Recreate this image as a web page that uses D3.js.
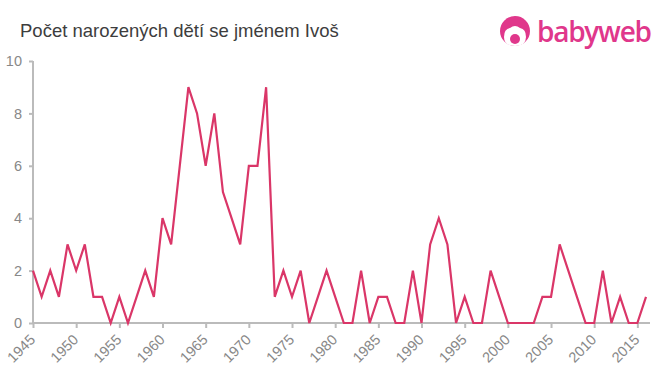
<!DOCTYPE html>
<html>
<head>
<meta charset="utf-8">
<script src="https://cdn.jsdelivr.net/npm/d3@7"></script>
<style>
  body { margin: 0; background: #fff; }
  svg { font-family: "Liberation Sans", Arial, sans-serif; }
</style>
</head>
<body>
<div id="chart"></div>
<script>
const years = d3.range(1945, 2017)
const counts = [
  2, 1, 2, 1, 3, 2, 3, 1, 1, 0,   // 1945-1954
  1, 0, 1, 2, 1, 4, 3, 6, 9, 8,   // 1955-1964
  6, 8, 5, 4, 3, 6, 6, 9, 1, 2,   // 1965-1974
  1, 2, 0, 1, 2, 1, 0, 0, 2, 0,   // 1975-1984
  1, 1, 0, 0, 2, 0, 3, 4, 3, 0,   // 1985-1994
  1, 0, 0, 2, 1, 0, 0, 0, 0, 1,   // 1995-2004
  1, 3, 2, 1, 0, 0, 2, 0, 1, 0,   // 2005-2014
  0, 1                            // 2015-2016
]
const xTicks = d3.range(1945, 2016, 5)
const yTicks = [0, 2, 4, 6, 8, 10]
const title = "Počet narozených dětí se jménem Ivoš"

const width = 660
const height = 375
const margin = { top: 61, right: 14, bottom: 52, left: 33 }

const svg = d3.select("#chart").append("svg").attr("width", width).attr("height", height)

svg.append("text")
  .attr("x", 20).attr("y", 37)
  .attr("font-size", 18.5)
  .attr("fill", "#3d3d3d")
  .text(title)

// logo
const logo = svg.append("g").attr("transform", "translate(515,31)")
logo.append("circle").attr("r", 15).attr("fill", "#e0378b")
logo.append("path")
  .attr("d", "M-11,6 Q-11,-2 -5,-3 Q0,-7 5,-3 Q11,-2 11,6 Q11,15 0,15 Q-11,15 -11,6 Z")
  .attr("fill", "#fff")
logo.append("circle").attr("cx", 0).attr("cy", 8).attr("r", 5).attr("fill", "#e0378b")
svg.append("text")
  .attr("x", 537).attr("y", 42)
  .attr("font-size", 28)
  .attr("font-weight", 600)
  .attr("font-family", "'Open Sans', 'Noto Sans', sans-serif")
  .attr("fill", "#e0378b")
  .attr("textLength", 115)
  .text("babyweb")

const x = d3.scaleLinear()
  .domain([1945, 2016])
  .range([margin.left, width - margin.right])

const y = d3.scaleLinear()
  .domain([0, 10])
  .range([height - margin.bottom, margin.top])

// x axis
const gx = svg.append("g")
  .attr("transform", `translate(0,${height - margin.bottom})`)
  .call(d3.axisBottom(x).tickValues(xTicks).tickFormat(d3.format("d")).tickSize(5))
gx.select(".domain").attr("stroke", "#bbb").attr("stroke-width", 2)
  .attr("d", `M${margin.left},0H${width - 10}`)
gx.selectAll(".tick line").attr("stroke", "#bbb").attr("stroke-width", 2)
gx.selectAll(".tick text")
  .attr("font-size", 14.5)
  .attr("fill", "#888")
  .attr("text-anchor", "end")
  .attr("x", 0).attr("y", 0)
  .attr("dy", "0.35em")
  .attr("transform", "translate(-1,14) rotate(-45)")

// y axis
const gy = svg.append("g")
  .attr("transform", `translate(${margin.left},0)`)
  .call(d3.axisLeft(y).tickValues(yTicks).tickSize(4).tickPadding(7))
gy.select(".domain").attr("stroke", "#bbb").attr("stroke-width", 2)
  .attr("d", `M0,${margin.top}V${height - margin.bottom}`)
gy.selectAll(".tick line").attr("stroke", "#bbb").attr("stroke-width", 2)
gy.selectAll(".tick text").attr("font-size", 14.5).attr("fill", "#888")

svg.selectAll("g").attr("font-family", null)

// line
const line = d3.line()
  .x((d, i) => x(years[i]))
  .y((d) => y(d))

svg.append("path")
  .datum(counts)
  .attr("fill", "none")
  .attr("stroke", "#da3668")
  .attr("stroke-width", 2.2)
  .attr("d", line)
</script>
</body>
</html>
